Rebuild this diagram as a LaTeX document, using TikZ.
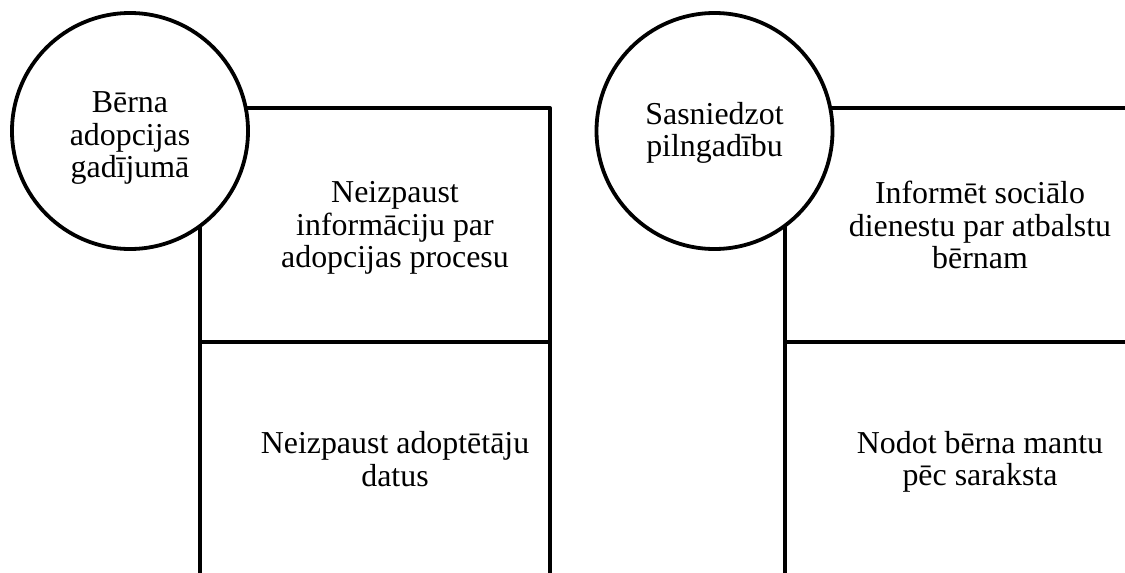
\documentclass[tikz,border=0pt]{standalone}
\usepackage{fontspec}
\setmainfont{Liberation Serif}
\begin{document}
\begin{tikzpicture}[x=1pt,y=-1pt,
  outline/.style={line width=4pt, draw=black, line join=round},
  bubble/.style={circle, draw=black, line width=3.8pt, fill=white, minimum size=236pt, inner sep=0pt},
  txt/.style={align=center, inner sep=0pt, font=\fontsize{31.9}{32.5}\selectfont}]
\useasboundingbox (0,0) rectangle (1125,573);
\clip (0,0) rectangle (1125,573);
% left group frame
\coordinate (la) at (200,573);
\coordinate (lb) at (200,108);
\coordinate (lc) at (550,108);
\coordinate (ld) at (550,573);
\coordinate (le) at (200,342);
\coordinate (lf) at (550,342);
\draw[outline] (la) -- (lb) -- (lc) -- (ld);
\draw[outline] (le) -- (lf);
% right group frame
\coordinate (ra) at (785,573);
\coordinate (rb) at (785,108);
\coordinate (rc) at (1135,108);
\coordinate (rd) at (1135,573);
\coordinate (re) at (785,342);
\coordinate (rf) at (1135,342);
\draw[outline] (ra) -- (rb) -- (rc) -- (rd);
\draw[outline] (re) -- (rf);
% circles
\node[bubble] (c1) at (130,131) {};
\node[txt] (t1) at (130,138) {Bērna\\adopcijas\\gadījumā};
\node[bubble] (c2) at (714.5,131) {};
\node[txt] (t2) at (714.5,133) {Sasniedzot\\pilngadību};
% box texts
\node[txt] (b1) at (395,228) {Neizpaust\\informāciju par\\adopcijas procesu};
\node[txt] (b2) at (395,459) {Neizpaust adoptētāju\\datus};
\node[txt] (b3) at (980,225) {Informēt sociālo\\dienestu par atbalstu\\bērnam};
\node[txt] (b4) at (980,462) {Nodot bērna mantu\\pēc saraksta};
\end{tikzpicture}
\end{document}
